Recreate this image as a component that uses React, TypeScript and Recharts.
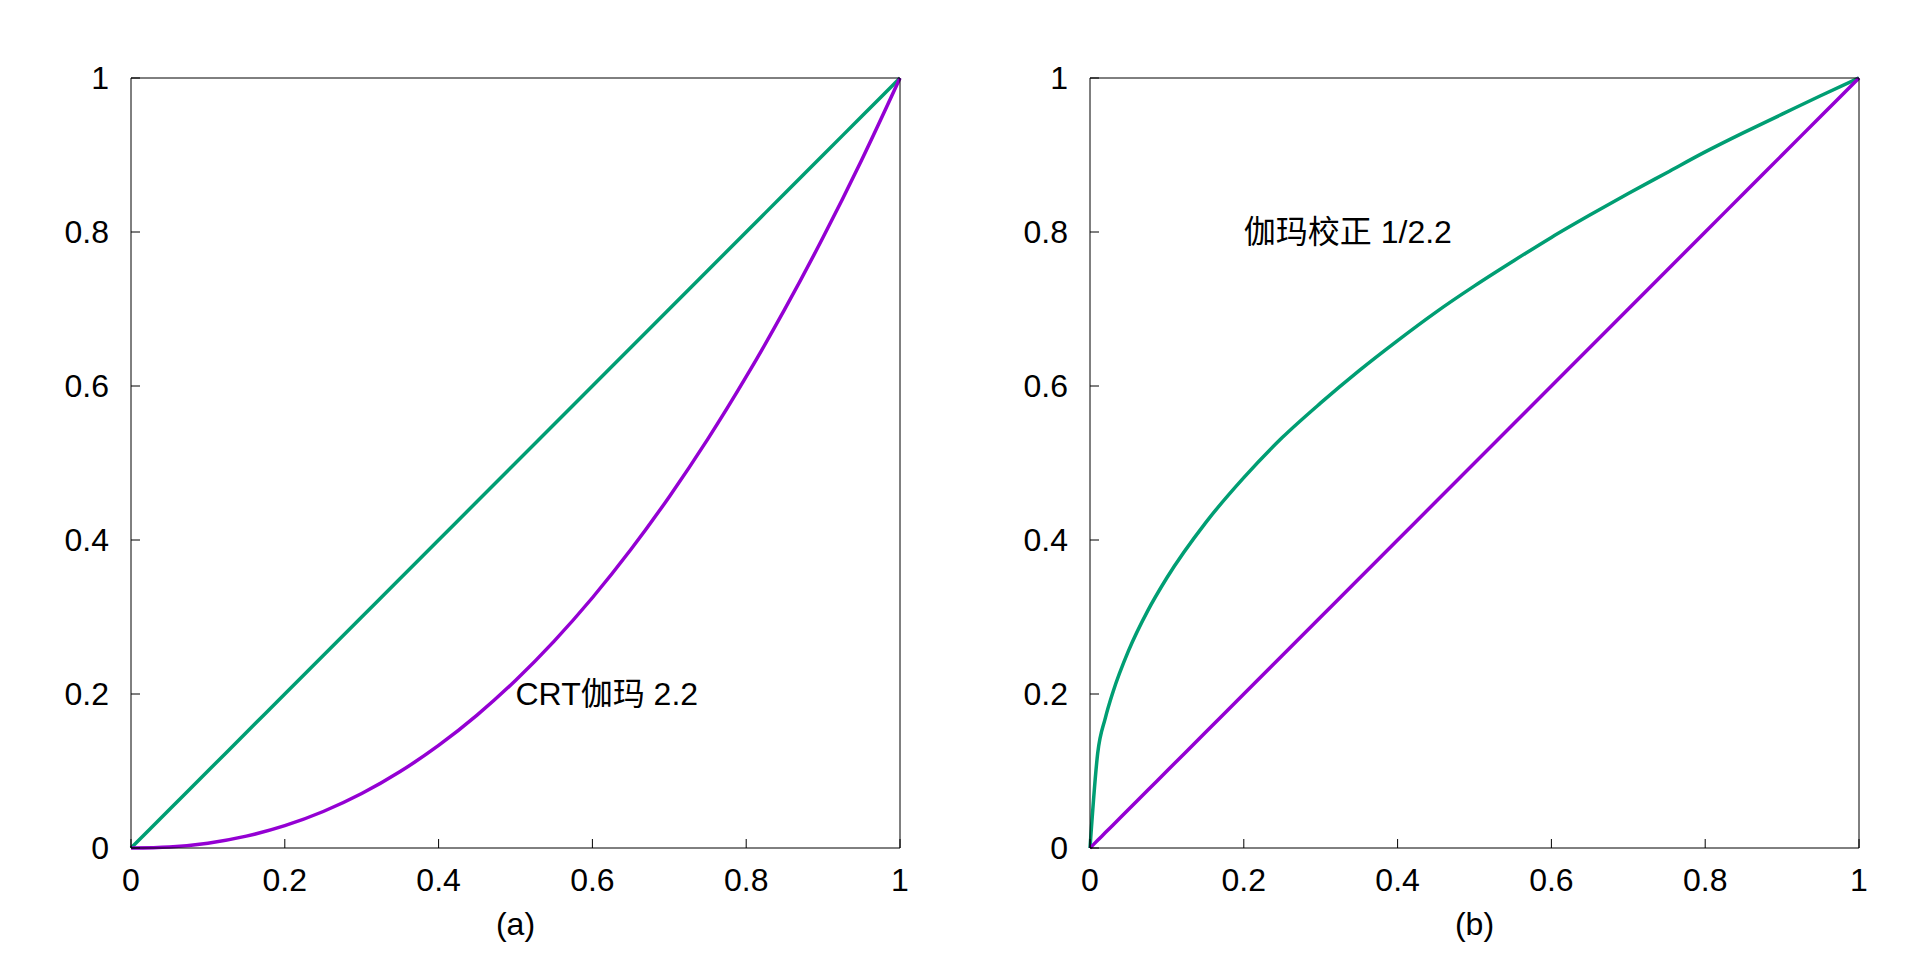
import { Label, Line, LineChart, ReferenceDot, XAxis, YAxis } from 'recharts';

const FONT = '"Liberation Sans", Arial, "Noto Sans CJK SC", sans-serif';
const GREEN = '#009E73';
const PURPLE = '#9400D3';
const FONT_SIZE = 32;

const ticks = [0, 0.2, 0.4, 0.6, 0.8, 1];

// (a) CRT response
const xA = [0, 0.05, 0.1, 0.15, 0.2, 0.25, 0.3, 0.35, 0.4, 0.45, 0.5, 0.55, 0.6, 0.65, 0.7, 0.75, 0.8, 0.85, 0.9, 0.95, 1];
const linearA = [0, 0.05, 0.1, 0.15, 0.2, 0.25, 0.3, 0.35, 0.4, 0.45, 0.5, 0.55, 0.6, 0.65, 0.7, 0.75, 0.8, 0.85, 0.9, 0.95, 1];
const crtGamma = [0, 0.0014, 0.0063, 0.0154, 0.029, 0.0474, 0.0707, 0.0993, 0.1332, 0.1726, 0.2176, 0.2684, 0.325, 0.3876, 0.4563, 0.531, 0.6121, 0.6994, 0.7931, 0.8933, 1];

// (b) gamma correction
const xB = [0, 0.01, 0.02, 0.03, 0.05, 0.075, 0.1, 0.15, 0.2, 0.25, 0.3, 0.35, 0.4, 0.45, 0.5, 0.55, 0.6, 0.65, 0.7, 0.75, 0.8, 0.85, 0.9, 0.95, 1];
const corrected = [0, 0.123, 0.169, 0.203, 0.256, 0.308, 0.351, 0.422, 0.481, 0.533, 0.578, 0.62, 0.659, 0.696, 0.73, 0.762, 0.793, 0.822, 0.85, 0.877, 0.904, 0.929, 0.953, 0.977, 1];
const linearB = [0, 0.01, 0.02, 0.03, 0.05, 0.075, 0.1, 0.15, 0.2, 0.25, 0.3, 0.35, 0.4, 0.45, 0.5, 0.55, 0.6, 0.65, 0.7, 0.75, 0.8, 0.85, 0.9, 0.95, 1];

const dataA = xA.map((x, i) => ({ x, green: linearA[i], purple: crtGamma[i] }));
const dataB = xB.map((x, i) => ({ x, green: corrected[i], purple: linearB[i] }));

const textStyle = { fontSize: FONT_SIZE, fill: '#000', fontFamily: FONT };
const axisLine = { stroke: '#000', strokeWidth: 1 };
const tickLine = { stroke: '#000', strokeWidth: 1 };

interface PanelProps {
  data: { x: number; green: number; purple: number }[];
  note: string;
  noteX: number;
  noteY: number;
  caption: string;
  left: number;
  marginLeft: number;
  marginRight: number;
}

const Panel = ({ data, note, noteX, noteY, caption, left, marginLeft, marginRight }: PanelProps) => (
  <div style={{ position: 'absolute', left, top: 0 }}>
    <LineChart
      width={960}
      height={960}
      data={data}
      margin={{ top: 68, right: marginRight, bottom: 12, left: marginLeft }}
    >
      <XAxis
        dataKey="x"
        type="number"
        domain={[0, 1]}
        ticks={ticks}
        height={100}
        tick={textStyle}
        tickSize={-9}
        tickMargin={29}
        axisLine={axisLine}
        tickLine={tickLine}
      >
        <Label value={caption} position="insideBottom" offset={13} style={textStyle} />
      </XAxis>
      <XAxis
        xAxisId="top"
        orientation="top"
        dataKey="x"
        type="number"
        domain={[0, 1]}
        ticks={ticks}
        height={10}
        tick={false}
        tickSize={-9}
        axisLine={axisLine}
        tickLine={tickLine}
      />
      <YAxis
        type="number"
        domain={[0, 1]}
        ticks={ticks}
        width={60}
        tick={textStyle}
        tickSize={-9}
        tickMargin={31}
        axisLine={axisLine}
        tickLine={tickLine}
      />
      <YAxis
        yAxisId="right"
        orientation="right"
        type="number"
        domain={[0, 1]}
        ticks={ticks}
        width={10}
        tick={false}
        tickSize={-9}
        axisLine={axisLine}
        tickLine={tickLine}
      />
      <Line type="monotone" dataKey="green" stroke={GREEN} strokeWidth={3.5} dot={false} isAnimationActive={false} />
      <Line type="monotone" dataKey="purple" stroke={PURPLE} strokeWidth={3.5} dot={false} isAnimationActive={false} />
      <ReferenceDot
        x={noteX}
        y={noteY}
        r={0}
        fill="none"
        stroke="none"
        label={{ value: note, position: 'right', offset: 0, style: textStyle }}
      />
    </LineChart>
  </div>
);

export default function App() {
  return (
    <div style={{ position: 'fixed', left: 0, top: 0, width: 1920, height: 960, background: '#fff' }}>
      <Panel data={dataA} note="CRT伽玛 2.2" noteX={0.5} noteY={0.2} caption="(a)" left={0} marginLeft={71} marginRight={50} />
      <Panel data={dataB} note="伽玛校正 1/2.2" noteX={0.2} noteY={0.8} caption="(b)" left={960} marginLeft={70} marginRight={51} />
    </div>
  );
}
